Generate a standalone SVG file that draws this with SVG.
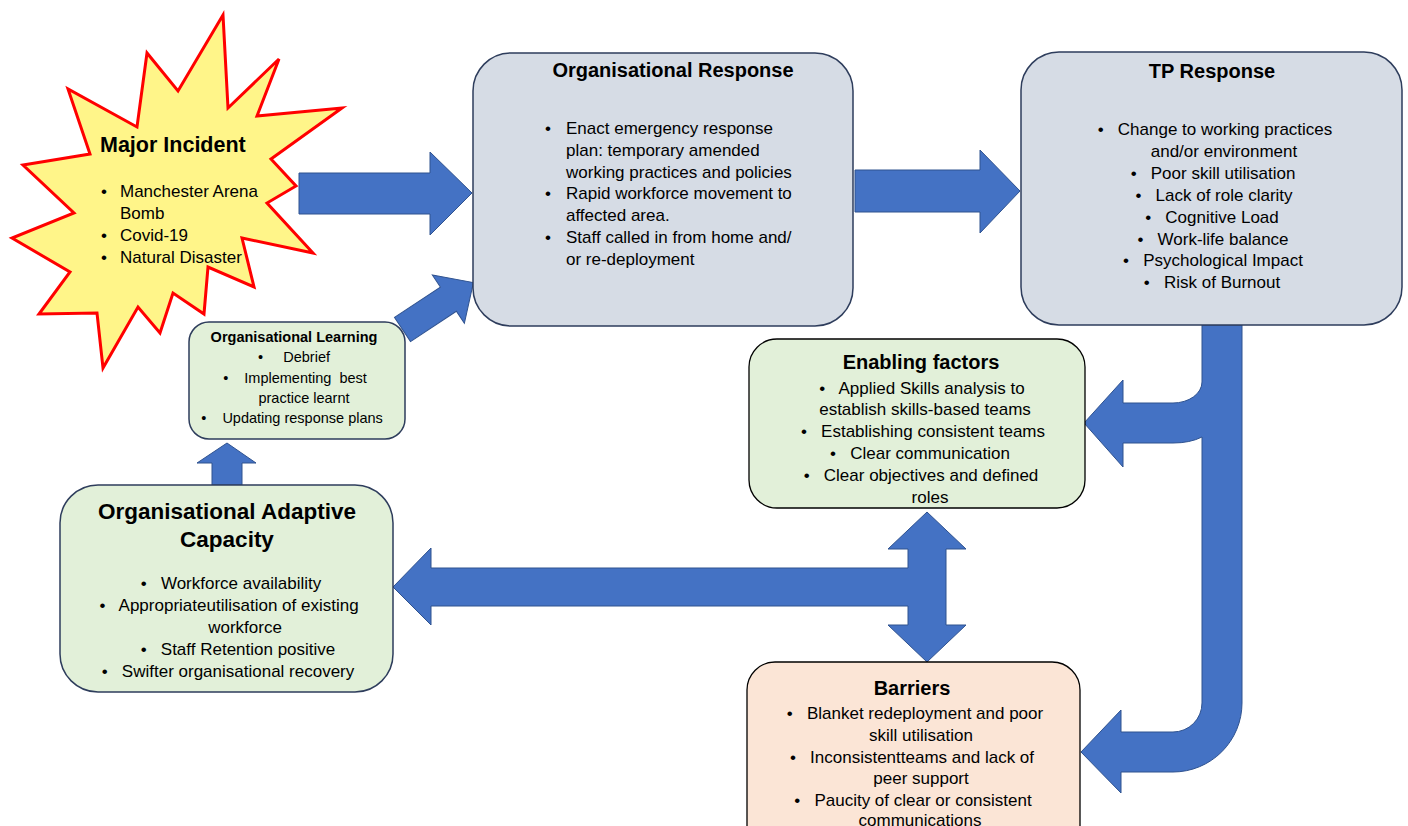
<svg xmlns="http://www.w3.org/2000/svg" width="1408" height="826" viewBox="0 0 1408 826">
<style>
text{font-family:"Liberation Sans",Arial,sans-serif;fill:#000}
.t{font-weight:bold;font-size:20px;text-anchor:middle}
.b{font-size:17px}
.c{font-size:17px;text-anchor:middle}
.s{font-size:14.5px;text-anchor:middle}
.arr{fill:#4472C4;stroke:#2F528F;stroke-width:1}
.blue{fill:#D6DCE5;stroke:#2E3D5C;stroke-width:1.5}
.grn{fill:#E2F0D9;stroke:#2E3D5C;stroke-width:1.5}
.grnk{fill:#E2F0D9;stroke:#000;stroke-width:1.3}
.pch{fill:#FBE5D6;stroke:#000;stroke-width:1.3}
</style>
<rect width="1408" height="826" fill="#fff"/>
<g id="connectors">
<polygon class="arr" points="299,173 430,173 430,152 472,193 430,235 430,214 299,214"/>
<polygon class="arr" points="855,170 980,170 980,150 1020,191 980,233 980,212 855,212"/>
<polygon class="arr" transform="translate(402.5,329.5) rotate(-33.5)" points="0,-14.5 55,-14.5 55,-29 85,0 55,29 55,14.5 0,14.5"/>
<polygon class="arr" points="212,485 212,463 197,463 227,443 256,463 242,463 242,485"/>
<path class="arr" d="M393,587 L431,548 L431,568 L908,568 L908,549 L888,549 L927,512 L966,549 L946,549 L946,625 L966,625 L927,662 L888,625 L908,625 L908,606 L431,606 L431,625 Z"/>
<path class="arr" d="M1202,325 L1242,325 L1242,703 A69,69 0 0 1 1173,772 L1121,772 L1121,793 L1081,752 L1121,710 L1121,732 L1173,732 A29,29 0 0 0 1202,703 L1202,437 Q1190,443 1173,443 L1123,443 L1123,467 L1084,423 L1123,380 L1123,403 L1173,403 A29,21 0 0 0 1202,382 Z"/>
</g>
<g id="major-incident">
<polygon points="223,15 228,108 279,59 257,116 342,108 271,159 296,186 267,203 313,253 242,238 254,287 208,267 204,314 173,293 160,333 138,307 103,368 97,313 39,314 70,272 12,238 74,213 23,165 90,154 68,89 137,127 147,53 178,91" fill="#FFF589" stroke="#FF0000" stroke-width="3" stroke-linejoin="miter"/>
<text x="100" y="152" style="font-weight:bold;font-size:21.5px">Major Incident</text>
<text class="b" x="101" y="197">•</text><text class="b" x="120" y="197">Manchester Arena</text>
<text class="b" x="120" y="219">Bomb</text>
<text class="b" x="101" y="241">•</text><text class="b" x="120" y="241">Covid-19</text>
<text class="b" x="101" y="263">•</text><text class="b" x="120" y="263">Natural Disaster</text>
</g>
<g id="org-response">
<rect class="blue" x="473" y="53" width="380" height="273" rx="38"/>
<text class="t" x="673" y="77">Organisational Response</text>
<text class="b" x="545" y="134">•</text><text class="b" x="566" y="134">Enact emergency response</text>
<text class="b" x="566" y="156">plan: temporary amended</text>
<text class="b" x="566" y="178">working practices and policies</text>
<text class="b" x="545" y="199">•</text><text class="b" x="566" y="199">Rapid workforce movement to</text>
<text class="b" x="566" y="221">affected area.</text>
<text class="b" x="545" y="243">•</text><text class="b" x="566" y="243">Staff called in from home and/</text>
<text class="b" x="566" y="265">or re-deployment</text>
</g>
<g id="tp-response">
<rect class="blue" x="1021" y="52" width="381" height="273" rx="38"/>
<text class="t" x="1212" y="78">TP Response</text>
<text class="c" x="1215" y="135">•&#160;&#160; Change to working practices</text>
<text class="c" x="1224" y="157">and/or environment</text>
<text class="c" x="1213" y="179">•&#160;&#160; Poor skill utilisation</text>
<text class="c" x="1214" y="201">•&#160;&#160; Lack of role clarity</text>
<text class="c" x="1212" y="223">•&#160;&#160; Cognitive Load</text>
<text class="c" x="1213" y="245">•&#160;&#160; Work-life balance</text>
<text class="c" x="1213" y="266">•&#160;&#160; Psychological Impact</text>
<text class="c" x="1212" y="288">•&#160;&#160; Risk of Burnout</text>
</g>
<g id="enabling-factors">
<rect class="grnk" x="749" y="339" width="336" height="169" rx="28"/>
<text class="t" x="921" y="369">Enabling factors</text>
<text class="c" x="922" y="394">•&#160;&#160; Applied Skills analysis to</text>
<text class="c" x="925" y="415">establish skills-based teams</text>
<text class="c" x="923" y="437">•&#160;&#160; Establishing consistent teams</text>
<text class="c" x="920" y="459">•&#160;&#160; Clear communication</text>
<text class="c" x="921" y="481">•&#160;&#160; Clear objectives and defined</text>
<text class="c" x="930" y="503">roles</text>
</g>
<g id="barriers">
<rect class="pch" x="747" y="662" width="333" height="200" rx="28"/>
<text class="t" x="912" y="695">Barriers</text>
<text class="c" x="915" y="719">•&#160;&#160; Blanket redeployment and poor</text>
<text class="c" x="921" y="741">skill utilisation</text>
<text class="c" x="912" y="763">•&#160;&#160; Inconsistentteams and lack of</text>
<text class="c" x="921" y="784">peer support</text>
<text class="c" x="913" y="806">•&#160;&#160; Paucity of clear or consistent</text>
<text class="c" x="920" y="826">communications</text>
</g>
<g id="adaptive-capacity">
<rect class="grn" x="60" y="485" width="333" height="207" rx="38"/>
<text class="t" x="227" y="519" style="font-size:22.5px">Organisational Adaptive</text>
<text class="t" x="227" y="547" style="font-size:22.5px">Capacity</text>
<text class="c" x="231" y="589">•&#160;&#160; Workforce availability</text>
<text class="c" x="229" y="611">•&#160;&#160; Appropriateutilisation of existing</text>
<text class="c" x="245" y="633">workforce</text>
<text class="c" x="238" y="655">•&#160;&#160; Staff Retention positive</text>
<text class="c" x="228" y="677">•&#160;&#160; Swifter organisational recovery</text>
</g>
<g id="org-learning">
<rect class="grn" x="189" y="322" width="216" height="117" rx="20"/>
<text class="s" x="294" y="342" style="font-weight:bold">Organisational Learning</text>
<text class="s" x="294" y="362">•&#160;&#160;&#160;&#160; Debrief</text>
<text class="s" x="295" y="383">•&#160;&#160;&#160; Implementing&#160; best</text>
<text class="s" x="304" y="403">practice learnt</text>
<text class="s" x="292" y="423">•&#160;&#160;&#160; Updating response plans</text>
</g>
</svg>
